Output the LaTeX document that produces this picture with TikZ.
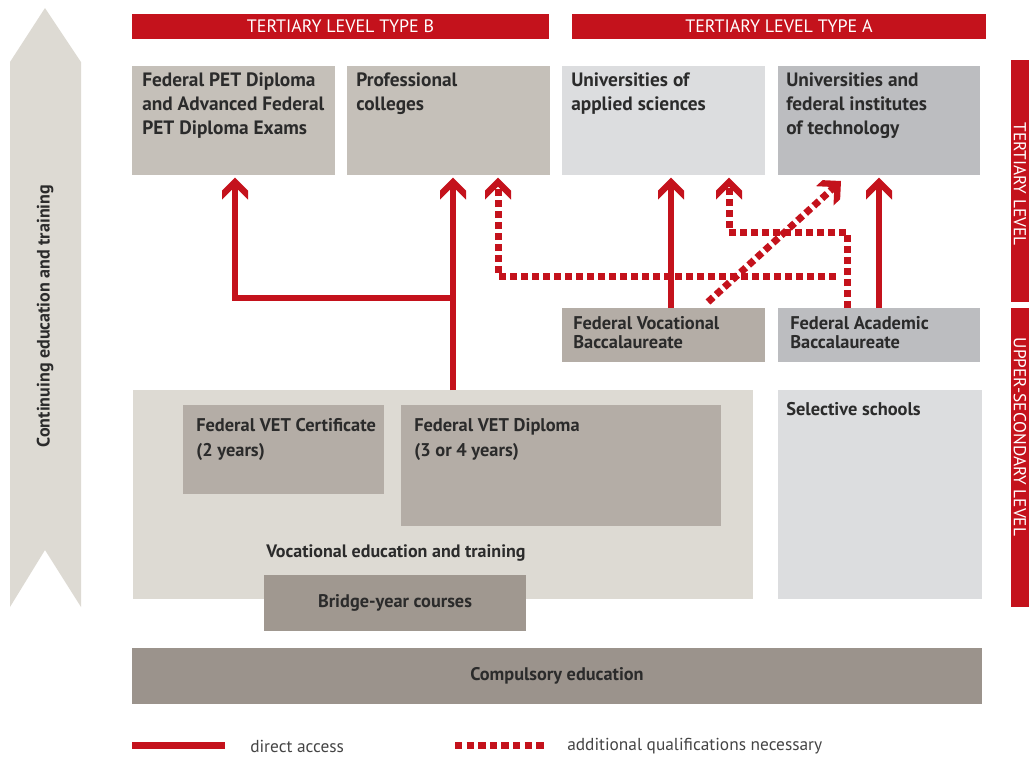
\documentclass[tikz,border=0pt]{standalone}
\usepackage{fontspec}
\setmainfont{PT Sans}
\usetikzlibrary{arrows.meta,fit,calc}
\definecolor{redA}{HTML}{C4121C}
\definecolor{warm}{HTML}{C5C0B9}
\definecolor{lightcool}{HTML}{DCDDDF}
\definecolor{midcool}{HTML}{BCBDC0}
\definecolor{vetbg}{HTML}{DDDAD3}
\definecolor{inner}{HTML}{B4ADA6}
\definecolor{bridge}{HTML}{A09890}
\definecolor{compul}{HTML}{9B938C}
\definecolor{txt}{HTML}{2B2B2B}
\definecolor{legtxt}{HTML}{444444}
\pgfdeclarearrow{
  name = Chev,
  setup code = {
    \pgfarrowssettipend{0pt}
    \pgfarrowssetbackend{-16.5pt}
    \pgfarrowssetlineend{-6.5pt}
    \pgfarrowssetvisualbackend{-6.5pt}
    \pgfarrowshullpoint{0pt}{0pt}
    \pgfarrowshullpoint{-16.5pt}{9.75pt}
    \pgfarrowshullpoint{-16.5pt}{-9.75pt}
  },
  drawing code = {
    \pgfsetfillcolor{pgfstrokecolor}
    \pgfpathmoveto{\pgfqpoint{0pt}{0pt}}
    \pgfpathlineto{\pgfqpoint{-9.75pt}{9.75pt}}
    \pgfpathlineto{\pgfqpoint{-16.5pt}{9.75pt}}
    \pgfpathlineto{\pgfqpoint{-6.75pt}{0pt}}
    \pgfpathlineto{\pgfqpoint{-16.5pt}{-9.75pt}}
    \pgfpathlineto{\pgfqpoint{-9.75pt}{-9.75pt}}
    \pgfpathclose
    \pgfusepathqfill
  }
}
\begin{document}
\begin{tikzpicture}[x=0.75pt,y=-0.75pt,
  box/.style={inner sep=0pt, outer sep=0pt, draw=none},
  lbl/.style={anchor=north west, inner sep=0pt, align=left, text=txt,
    font=\bfseries\fontsize{14.5}{18}\selectfont},
  slbl/.style={anchor=north west, inner sep=0pt, align=left, text=txt,
    font=\bfseries\fontsize{13.8}{14.3}\selectfont},
  clbl/.style={inner sep=0pt, text=txt, font=\bfseries\fontsize{13.7}{15}\selectfont},
  hdr/.style={inner sep=0pt, text=white, font=\fontsize{13.5}{15}\selectfont},
  tip/.style={-Chev},
  direct/.style={draw=redA, line width=4.5pt, line join=miter, tip, shorten >=2pt},
  addq/.style={draw=redA, line width=5.25pt, dash pattern=on 5.25pt off 3pt, tip, shorten >=2pt},
  addqline/.style={draw=redA, line width=5.25pt, dash pattern=on 5.25pt off 3pt},
  leg/.style={anchor=west, inner sep=0pt, text=legtxt, font=\fontsize{13}{15}\selectfont}]
\useasboundingbox (0,0) rectangle (1029,758);

% left band arrow
\fill[vetbg] (45,8) -- (81,62) -- (81,607) -- (45,550) -- (10,607) -- (10,62) -- cycle;
\node[clbl, rotate=90, font=\bfseries\fontsize{13.5}{15}\selectfont] (cet) at (45,316) {Continuing education and training};

% headers
\node[box, fit={(132,14)(549,39)}, fill=redA] (hb) {};
\node[hdr] (hbt) at (hb.center) {TERTIARY LEVEL TYPE B};
\node[box, fit={(572,14)(986,39)}, fill=redA] (ha) {};
\node[hdr] (hat) at (ha.center) {TERTIARY LEVEL TYPE A};

% side bars
\node[box, fit={(1011,60)(1029,302)}, fill=redA] (st) {};
\node[hdr, rotate=-90, font=\fontsize{13}{15}\selectfont] (stt) at (1020,184) {TERTIARY LEVEL};
\node[box, fit={(1011,308)(1029,607)}, fill=redA] (su) {};
\node[hdr, rotate=-90, font=\fontsize{13}{15}\selectfont] (sut) at (1020,437) {UPPER-SECONDARY LEVEL};

% tertiary boxes
\node[box, fit={(132,66)(335,175)}, fill=warm] (pet) {};
\node[lbl] (pett) at (142,72) {Federal PET Diploma\\and Advanced Federal\\PET Diploma Exams};
\node[box, fit={(347,66)(550,175)}, fill=warm] (pc) {};
\node[lbl] (pct) at (356,72) {Professional\\colleges};
\node[box, fit={(562,66)(765,175)}, fill=lightcool] (uas) {};
\node[lbl] (uast) at (571,72) {Universities of\\applied sciences};
\node[box, fit={(778,66)(980,175)}, fill=midcool] (ufi) {};
\node[lbl] (ufit) at (786,72) {Universities and\\federal institutes\\of technology};

% baccalaureates
\node[box, fit={(562,308)(765,362)}, fill=inner] (fvb) {};
\node[slbl] (fvbt) at (573,316) {Federal Vocational\\Baccalaureate};
\node[box, fit={(778,308)(980,362)}, fill=midcool] (fab) {};
\node[slbl] (fabt) at (790,316) {Federal Academic\\Baccalaureate};

% VET
\node[box, fit={(133,390)(753,599)}, fill=vetbg] (vet) {};
\node[box, fit={(183,405)(384,494)}, fill=inner] (cert) {};
\node[slbl, font=\bfseries\fontsize{13.8}{19}\selectfont] (certt) at (196,418) {Federal VET Certificate\\(2 years)};
\node[box, fit={(401,405)(721,526)}, fill=inner] (dipl) {};
\node[slbl, font=\bfseries\fontsize{13.8}{19}\selectfont] (diplt) at (414,418) {Federal VET Diploma\\(3 or 4 years)};
\node[clbl, font=\bfseries\fontsize{13.5}{15}\selectfont] (vett) at (396,553) {Vocational education and training};
\node[box, fit={(264,575)(526,631)}, fill=bridge] (br) {};
\node[clbl] (brt) at (br.center) {Bridge-year courses};

% selective schools
\node[box, fit={(778,390)(982,599)}, fill=lightcool] (sel) {};
\node[slbl] (selt) at (786,402) {Selective schools};

% compulsory
\node[box, fit={(132,648)(982,704)}, fill=compul] (comp) {};
\node[clbl] (compt) at (comp.center) {Compulsory education};

% connectors
\coordinate (xpc) at (453,0);
\coordinate (j1) at (235,298);
\draw[direct] (vet.north -| xpc) -- (pc.south -| xpc);
\draw[direct] (j1 -| xpc) -- (j1) -- (pet.south -| j1);

\coordinate (xv) at (671,0);
\draw[direct] (fvb.north -| xv) -- (uas.south -| xv);
\coordinate (xa) at (879,0);
\draw[direct] (fab.north -| xa) -- (ufi.south -| xa);

\coordinate (d1) at (847,232);
\coordinate (d2) at (729,232);
\draw[addq] (fab.north -| d1) -- (d1) -- (d2) -- (uas.south -| d2);
\coordinate (e1) at (836,276);
\coordinate (e2) at (498,276);
\draw[addq] (e1) -- (e2) -- (pc.south -| e2);
\coordinate (g1) at (708,302);
\coordinate (g2) at (841,181);
\draw[addq, shorten >=0pt] (g1) -- (g2);

% legend
\coordinate (l1) at (132,745);
\coordinate (l2) at (225,745);
\draw[redA, line width=5.25pt] (l1) -- (l2);
\node[leg] (lt1) at (250,746) {direct access};
\coordinate (m1) at (455,745);
\coordinate (m2) at (547,745);
\draw[addqline, dash pattern=on 5.5pt off 3.2pt] (m1) -- (m2);
\node[leg] (lt2) at (567,746) {additional qualifications necessary};
\end{tikzpicture}
\end{document}
